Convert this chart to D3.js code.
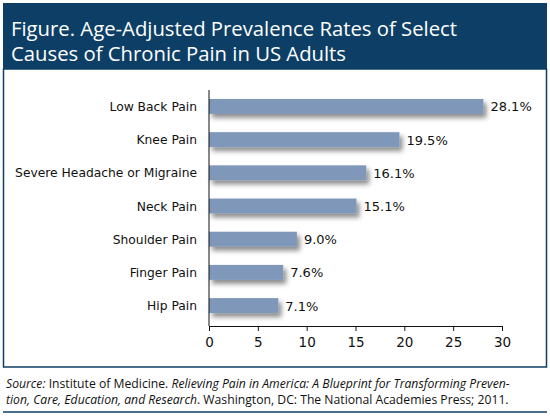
<!DOCTYPE html>
<html><head><meta charset="utf-8">
<script src="https://cdn.jsdelivr.net/npm/d3@7"></script>
<style>body{margin:0;background:#fff}</style>
</head><body>
<script>
var categories = ["Low Back Pain","Knee Pain","Severe Headache or Migraine","Neck Pain","Shoulder Pain","Finger Pain","Hip Pain"];
var values = [28.1,19.5,16.1,15.1,9.0,7.6,7.1];
var ticks = [0,5,10,15,20,25,30];

var svg = d3.select("body").append("svg").attr("width",550).attr("height",416);
var defs = svg.append("defs");
var f = defs.append("filter").attr("id","sh").attr("x","-10%").attr("y","-50%").attr("width","130%").attr("height","250%");
f.append("feDropShadow").attr("dx",3).attr("dy",4).attr("stdDeviation",2.5).attr("flood-color","#000").attr("flood-opacity",0.45);

var navy = "#0d3f66";
svg.append("rect").attr("x",3).attr("y",3).attr("width",544).attr("height",66).attr("fill",navy);
svg.append("rect").attr("x",3.5).attr("y",69).attr("width",543).attr("height",298).attr("fill","none").attr("stroke",navy).attr("stroke-width",1.5);
svg.append("line").attr("x1",3).attr("x2",547).attr("y1",412).attr("y2",412).attr("stroke",navy).attr("stroke-width",1.5);

svg.append("text").attr("x",11).attr("y",36).attr("fill","#fff").attr("font-family","'Open Sans',sans-serif").attr("font-size",20.3).text("Figure. Age-Adjusted Prevalence Rates of Select");
svg.append("text").attr("x",11).attr("y",61).attr("fill","#fff").attr("font-family","'Open Sans',sans-serif").attr("font-size",20.3).text("Causes of Chronic Pain in US Adults");

var x = d3.scaleLinear().domain([0,30]).range([209,502]);
var y = d3.scaleBand().domain(categories).range([89,323]).paddingInner(0.55).paddingOuter(0.3);

var g = svg.append("g");
g.selectAll(".bar").data(categories).enter().append("rect")
  .attr("x",x(0)).attr("y",function(d){return y(d);})
  .attr("width",function(d,i){return x(values[i])-x(0);})
  .attr("height",y.bandwidth()).attr("fill","#7f98ba").attr("filter","url(#sh)");
g.selectAll(".val").data(categories).enter().append("text")
  .attr("x",function(d,i){return x(values[i])+7;}).attr("y",function(d){return y(d)+y.bandwidth()/2+5;})
  .attr("font-family","'DejaVu Sans',sans-serif").attr("font-size",13).attr("fill","#111")
  .text(function(d,i){return values[i].toFixed(1)+"%";});
g.selectAll(".cat").data(categories).enter().append("text")
  .attr("x",197).attr("y",function(d){return y(d)+y.bandwidth()/2+4.5;}).attr("text-anchor","end")
  .attr("font-family","'DejaVu Sans',sans-serif").attr("font-size",12.3).attr("fill","#111").text(function(d){return d;});

svg.append("line").attr("x1",x(0)).attr("x2",x(0)).attr("y1",90).attr("y2",326).attr("stroke","#111");
var ax = svg.append("g").attr("transform","translate(0,326)")
  .call(d3.axisBottom(x).tickValues(ticks).tickSize(5).tickSizeOuter(0).tickPadding(6));
ax.selectAll("path,line").attr("stroke","#111");
ax.selectAll("text").attr("font-family","'DejaVu Sans',sans-serif").attr("font-size",13.5).attr("fill","#111");

var src = svg.append("text").attr("font-family","'Open Sans',sans-serif").attr("font-size",12.2).attr("fill","#111");
var l1 = src.append("tspan").attr("x",6).attr("y",388);
l1.append("tspan").attr("font-style","italic").text("Source:");
l1.append("tspan").text(" Institute of Medicine. ");
l1.append("tspan").attr("font-style","italic").text("Relieving Pain in America: A Blueprint for Transforming Preven-");
var l2 = src.append("tspan").attr("x",6).attr("y",404);
l2.append("tspan").attr("font-style","italic").text("tion, Care, Education, and Research");
l2.append("tspan").text(". Washington, DC: The National Academies Press; 2011.");
</script>
</body></html>
